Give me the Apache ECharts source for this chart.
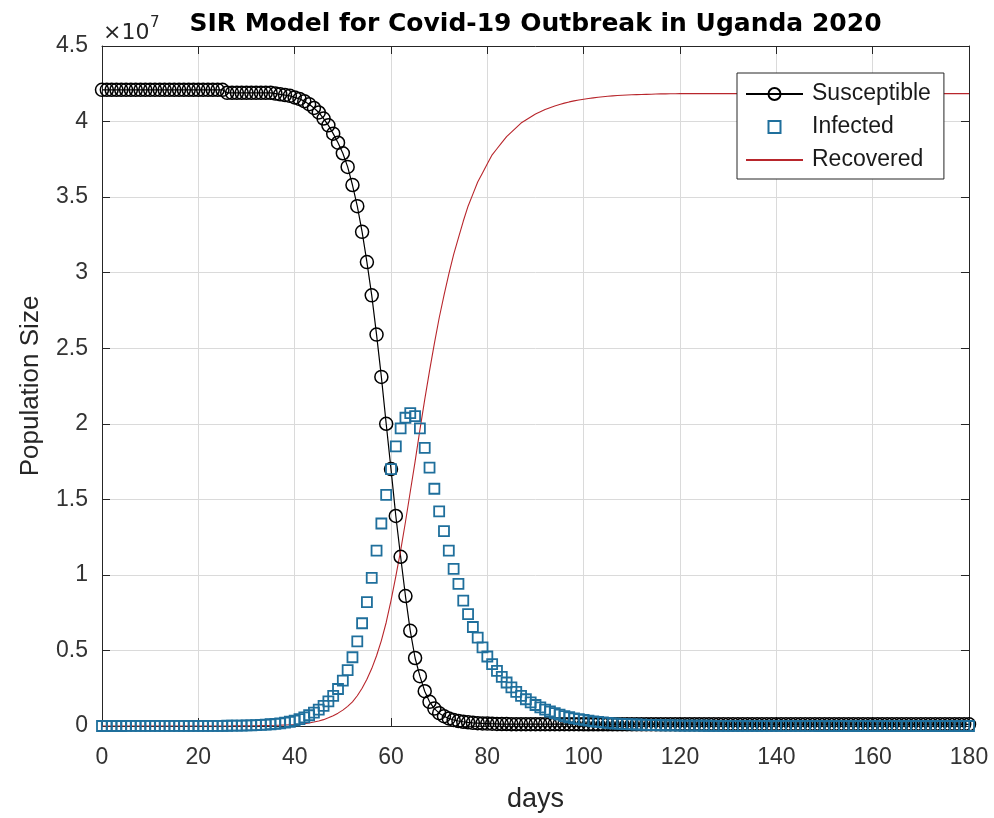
<!DOCTYPE html>
<html>
<head>
<meta charset="utf-8">
<title>SIR Model for Covid-19 Outbreak in Uganda 2020</title>
<script src="https://cdn.jsdelivr.net/npm/echarts@6/dist/echarts.min.js"></script>
<style>
  html, body { margin: 0; padding: 0; background: #fff; }
  #chart { width: 994px; height: 818px; }
</style>
</head>
<body>
<div id="chart"></div>
<script>
// values are in units of 1e7 people, one per day (day 0 .. 180)
var seriesNames = ['Susceptible', 'Infected', 'Recovered'];
var xTicks = [0, 20, 40, 60, 80, 100, 120, 140, 160, 180];
var yTicks = [0, 0.5, 1, 1.5, 2, 2.5, 3, 3.5, 4, 4.5];

var susceptible = [
  4.21, 4.21, 4.21, 4.21, 4.21, 4.21, 4.21, 4.21, 4.21, 4.21,
  4.21, 4.21, 4.21, 4.21, 4.21, 4.21, 4.21, 4.21, 4.21, 4.21,
  4.21, 4.21, 4.21, 4.21, 4.21, 4.21, 4.19, 4.19, 4.19, 4.19,
  4.19, 4.19, 4.19, 4.19, 4.19, 4.19, 4.185, 4.18, 4.175, 4.17,
  4.16, 4.15, 4.135, 4.115, 4.09, 4.06, 4.02, 3.975, 3.92, 3.86,
  3.79, 3.70, 3.58, 3.44, 3.27, 3.07, 2.85, 2.59, 2.31, 2.00,
  1.70, 1.39, 1.12, 0.86, 0.63, 0.45, 0.33, 0.23, 0.16, 0.115,
  0.085, 0.065, 0.05, 0.04, 0.033, 0.028, 0.024, 0.021, 0.019, 0.017,
  0.016, 0.015, 0.014, 0.013, 0.013, 0.012, 0.012, 0.012, 0.012, 0.012,
  0.012, 0.012, 0.012, 0.012, 0.012, 0.012, 0.012, 0.012, 0.012, 0.012,
  0.011, 0.011, 0.011, 0.011, 0.011, 0.011, 0.011, 0.011, 0.011, 0.011,
  0.011, 0.011, 0.011, 0.011, 0.011, 0.011, 0.011, 0.011, 0.011, 0.011,
  0.011, 0.011, 0.011, 0.011, 0.011, 0.011, 0.011, 0.011, 0.011, 0.011,
  0.011, 0.011, 0.011, 0.011, 0.011, 0.011, 0.011, 0.011, 0.011, 0.011,
  0.011, 0.011, 0.011, 0.011, 0.011, 0.011, 0.011, 0.011, 0.011, 0.011,
  0.011, 0.011, 0.011, 0.011, 0.011, 0.011, 0.011, 0.011, 0.011, 0.011,
  0.011, 0.011, 0.011, 0.011, 0.011, 0.011, 0.011, 0.011, 0.011, 0.011,
  0.011, 0.011, 0.011, 0.011, 0.011, 0.011, 0.011, 0.011, 0.011, 0.011,
  0.011
];

var infected = [
  0.0001, 0.0001, 0.0001, 0.0001, 0.0001, 0.0002, 0.0002, 0.0002, 0.0002, 0.0003,
  0.0003, 0.0003, 0.0004, 0.0004, 0.0005, 0.0005, 0.0006, 0.0007, 0.0008, 0.0009,
  0.001, 0.001, 0.001, 0.001, 0.001, 0.0012, 0.0015, 0.0019, 0.0024, 0.003,
  0.0038, 0.0047, 0.0059, 0.0073, 0.0092, 0.0115, 0.0143, 0.018, 0.0224, 0.028,
  0.035, 0.045, 0.057, 0.071, 0.088, 0.108, 0.133, 0.163, 0.20, 0.245,
  0.30, 0.37, 0.455, 0.56, 0.68, 0.82, 0.98, 1.16, 1.34, 1.53,
  1.70, 1.85, 1.97, 2.04, 2.07, 2.05, 1.97, 1.84, 1.71, 1.57,
  1.42, 1.29, 1.16, 1.04, 0.94, 0.83, 0.74, 0.655, 0.585, 0.52,
  0.46, 0.41, 0.365, 0.325, 0.288, 0.255, 0.226, 0.20, 0.177, 0.157,
  0.139, 0.123, 0.109, 0.096, 0.085, 0.075, 0.066, 0.058, 0.051, 0.045,
  0.04, 0.035, 0.031, 0.027, 0.024, 0.021, 0.018, 0.016, 0.014, 0.012,
  0.011, 0.01, 0.009, 0.008, 0.007, 0.006, 0.005, 0.0045, 0.004, 0.0035,
  0.003, 0.0027, 0.0024, 0.0021, 0.0019, 0.0017, 0.0015, 0.0013, 0.0012, 0.0011,
  0.001, 0.0009, 0.0008, 0.0007, 0.0006, 0.0006, 0.0005, 0.0005, 0.0004, 0.0004,
  0.0004, 0.0003, 0.0003, 0.0003, 0.0002, 0.0002, 0.0002, 0.0002, 0.0002, 0.0001,
  0.0001, 0.0001, 0.0001, 0.0001, 0.0001, 0.0001, 0.0001, 0.0001, 0.0001, 0.0001,
  0.0001, 0.0001, 0.0001, 0.0001, 0.0001, 0.0001, 0.0001, 0.0001, 0.0001, 0.0001,
  0.0001, 0.0001, 0.0001, 0.0001, 0.0001, 0.0001, 0.0001, 0.0001, 0.0001, 0.0001,
  0.0001
];

var recovered = [
  0, 0, 0, 0, 0, 0, 0, 0, 0, 0,
  0, 0, 0, 0, 0, 0, 0, 0, 0, 0,
  0.0001, 0.0001, 0.0002, 0.0002, 0.0003, 0.0003, 0.0004, 0.0005, 0.0007, 0.0009,
  0.0011, 0.0014, 0.0018, 0.0023, 0.003, 0.0037, 0.0045, 0.0055, 0.0068, 0.0082,
  0.0095, 0.012, 0.015, 0.02, 0.026, 0.033, 0.042, 0.054, 0.068, 0.085,
  0.105, 0.13, 0.16, 0.20, 0.25, 0.31, 0.38, 0.465, 0.565, 0.685,
  0.83, 0.99, 1.16, 1.35, 1.55, 1.75, 1.96, 2.16, 2.35, 2.53,
  2.70, 2.85, 2.99, 3.12, 3.23, 3.34, 3.44, 3.52, 3.60, 3.66,
  3.72, 3.78, 3.82, 3.86, 3.90, 3.93, 3.96, 3.99, 4.01, 4.03,
  4.05, 4.065, 4.08, 4.092, 4.103, 4.113, 4.122, 4.13, 4.137, 4.143,
  4.148, 4.153, 4.157, 4.161, 4.164, 4.167, 4.17, 4.172, 4.174, 4.176,
  4.177, 4.178, 4.179, 4.18, 4.181, 4.182, 4.183, 4.183, 4.184, 4.184,
  4.185, 4.185, 4.185, 4.185, 4.185, 4.185, 4.185, 4.185, 4.185, 4.185,
  4.185, 4.185, 4.185, 4.185, 4.185, 4.185, 4.185, 4.185, 4.185, 4.185,
  4.185, 4.185, 4.185, 4.185, 4.185, 4.185, 4.185, 4.185, 4.185, 4.185,
  4.185, 4.185, 4.185, 4.185, 4.185, 4.185, 4.185, 4.185, 4.185, 4.185,
  4.185, 4.185, 4.185, 4.185, 4.185, 4.185, 4.185, 4.185, 4.185, 4.185,
  4.185, 4.185, 4.185, 4.185, 4.185, 4.185, 4.185, 4.185, 4.185, 4.185,
  4.185
];

// day numbers are just the index of each value
var days = susceptible.map(function (v, i) { return i; });
function pairs(vals) {
  return vals.map(function (v, i) { return [days[i], v]; });
}

var axisColor = '#262626';
var chart = echarts.init(document.getElementById('chart'));

var option = {
  animation: false,
  backgroundColor: '#fff',
  textStyle: { fontFamily: 'Liberation Sans, Arial, sans-serif' },
  grid: { left: 102, right: 25, top: 46, bottom: 89 },
  graphic: [
    {
      type: 'text', x: 535.5, y: 24,
      style: {
        text: 'SIR Model for Covid-19 Outbreak in Uganda 2020',
        font: 'bold 25px "DejaVu Sans"', fill: '#000',
        align: 'center', verticalAlign: 'middle',
        textAlign: 'center', textVerticalAlign: 'middle'
      }
    },
    {
      type: 'text', x: 103, y: 33,
      style: {
        text: '\u00d710', font: '22px "DejaVu Sans"', fill: axisColor,
        align: 'left', verticalAlign: 'middle',
        textAlign: 'left', textVerticalAlign: 'middle'
      }
    },
    {
      type: 'text', x: 150, y: 23,
      style: {
        text: '7', font: '15px "DejaVu Sans"', fill: axisColor,
        align: 'left', verticalAlign: 'middle',
        textAlign: 'left', textVerticalAlign: 'middle'
      }
    }
  ],
  legend: {
    data: seriesNames,
    orient: 'vertical',
    left: 737, top: 73,
    backgroundColor: '#fff',
    borderColor: axisColor, borderWidth: 1, borderRadius: 0,
    padding: [9, 13, 7, 8],
    itemWidth: 57, itemHeight: 15, itemGap: 9,
    textStyle: { fontSize: 23, lineHeight: 24, color: '#1a1a1a', padding: [0, 0, 0, 4] }
  },
  xAxis: [
    {
      type: 'value', min: 0, max: 180, interval: 20,
      name: 'days', nameLocation: 'middle', nameGap: 60,
      nameTextStyle: { fontSize: 27, color: axisColor },
      axisLine: { show: true, lineStyle: { color: axisColor, width: 1 } },
      axisTick: { show: true, inside: true, length: 8, lineStyle: { color: axisColor } },
      axisLabel: {
        fontSize: 23, color: '#333', margin: 20,
        customValues: xTicks
      },
      splitLine: { show: true, lineStyle: { color: '#dadada', width: 1 } }
    },
    {
      type: 'value', position: 'top', min: 0, max: 180, interval: 20,
      axisLine: { show: true, onZero: false, lineStyle: { color: axisColor, width: 1 } },
      axisTick: { show: true, inside: true, length: 8, lineStyle: { color: axisColor } },
      axisLabel: { show: false },
      splitLine: { show: false }
    }
  ],
  yAxis: [
    {
      type: 'value', min: 0, max: 4.5, interval: 0.5,
      name: 'Population Size', nameLocation: 'middle', nameGap: 58,
      nameTextStyle: { fontSize: 26, color: axisColor },
      axisLine: { show: true, lineStyle: { color: axisColor, width: 1 } },
      axisTick: { show: true, inside: true, length: 8, lineStyle: { color: axisColor } },
      axisLabel: {
        fontSize: 23, color: '#333', margin: 14,
        customValues: yTicks
      },
      splitLine: { show: true, lineStyle: { color: '#dadada', width: 1 } }
    },
    {
      type: 'value', position: 'right', min: 0, max: 4.5, interval: 0.5,
      axisLine: { show: true, onZero: false, lineStyle: { color: axisColor, width: 1 } },
      axisTick: { show: true, inside: true, length: 8, lineStyle: { color: axisColor } },
      axisLabel: { show: false },
      splitLine: { show: false }
    }
  ],
  series: [
    {
      name: 'Susceptible', type: 'line',
      data: pairs(susceptible),
      symbol: 'circle', symbolSize: 13,
      showSymbol: true, showAllSymbol: true,
      itemStyle: { color: 'rgba(0,0,0,0)', borderColor: '#000', borderWidth: 1.5 },
      lineStyle: { color: '#000', width: 1.2 },
      emphasis: { disabled: true }
    },
    {
      name: 'Infected', type: 'line',
      data: pairs(infected),
      symbol: 'rect', symbolSize: 10,
      showSymbol: true, showAllSymbol: true,
      itemStyle: { color: 'rgba(0,0,0,0)', borderColor: '#1f6f9c', borderWidth: 1.8 },
      lineStyle: { width: 0, opacity: 0 },
      emphasis: { disabled: true }
    },
    {
      name: 'Recovered', type: 'line',
      data: pairs(recovered),
      symbol: 'circle', showSymbol: false,
      itemStyle: { color: '#b8262c', opacity: 0 },
      lineStyle: { color: '#b8262c', width: 1.1 },
      emphasis: { disabled: true }
    }
  ]
};

chart.setOption(option);
</script>
</body>
</html>
